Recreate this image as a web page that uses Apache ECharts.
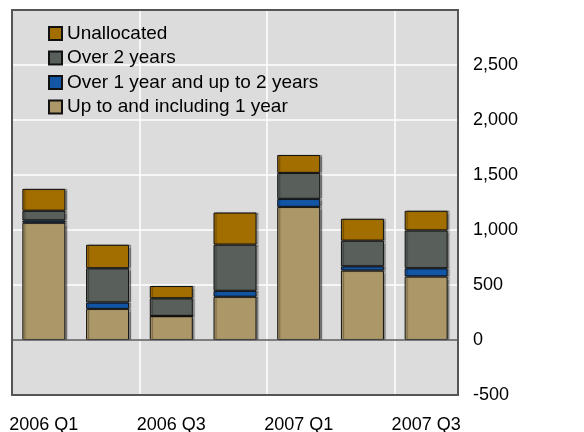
<!DOCTYPE html>
<html>
<head>
<meta charset="utf-8">
<script src="https://cdn.jsdelivr.net/npm/echarts@6/dist/echarts.min.js"></script>
<style>
  html, body { margin: 0; padding: 0; background: #fff; }
  #main { width: 584px; height: 432px; }
</style>
</head>
<body>
<div id="main"></div>
<script>
  // quarters
  var categories = ['2006 Q1', '2006 Q2', '2006 Q3', '2006 Q4', '2007 Q1', '2007 Q2', '2007 Q3'];
  // stacked from the bottom up
  var upTo1Year = [1066, 283, 217, 393, 1210, 631, 577];
  var oneTo2Years = [21, 58, 2, 54, 73, 39, 75];
  var over2Years = [88, 311, 160, 420, 236, 233, 344];
  var unallocated = [199, 214, 112, 292, 163, 199, 179];
  var yTicks = [-500, 0, 500, 1000, 1500, 2000, 2500, 3000];

  var font = 'Liberation Sans, Arial, sans-serif';
  var chart = echarts.init(document.getElementById('main'));

  function bar(name, data, color) {
    return {
      name: name,
      type: 'bar',
      stack: 'total',
      barWidth: 43,
      data: data,
      itemStyle: {
        color: color,
        borderColor: '#111',
        borderWidth: 1,
        shadowColor: 'rgba(0,0,0,0.35)',
        shadowOffsetX: 2,
        shadowBlur: 1
      }
    };
  }

  var series = [
    bar('Up to and including 1 year', upTo1Year, '#ab9767'),
    bar('Over 1 year and up to 2 years', oneTo2Years, '#1356a6'),
    bar('Over 2 years', over2Years, '#59605b'),
    bar('Unallocated', unallocated, '#a26e00')
  ];
  // zero line
  series[0].markLine = {
    silent: true,
    symbol: 'none',
    label: { show: false },
    lineStyle: { color: '#555', width: 1.5, type: 'solid' },
    data: [{ yAxis: 0 }]
  };

  chart.setOption({
    animation: false,
    textStyle: { fontFamily: font },
    grid: {
      left: 12, right: 126, top: 10, bottom: 37,
      outerBoundsMode: 'none',
      containLabel: false,
      show: true,
      backgroundColor: '#dcdcdc',
      borderWidth: 0
    },
    // plot frame drawn above the split lines
    graphic: [{
      type: 'rect',
      z: 100,
      silent: true,
      shape: { x: 12, y: 10, width: 446, height: 385 },
      style: { fill: 'none', stroke: '#555', lineWidth: 2 }
    }],
    legend: {
      data: ['Unallocated', 'Over 2 years', 'Over 1 year and up to 2 years', 'Up to and including 1 year'],
      orient: 'vertical',
      left: 48,
      top: 24,
      padding: 0,
      itemWidth: 13,
      itemHeight: 13,
      itemGap: 5.5,
      icon: 'rect',
      textStyle: { fontSize: 19, color: '#000', fontFamily: font }
    },
    xAxis: {
      type: 'category',
      data: categories,
      boundaryGap: true,
      axisLine: { show: false },
      axisTick: { show: false },
      axisLabel: { interval: 1, fontSize: 18, color: '#000', margin: 21 },
      splitLine: { show: true, interval: 1, lineStyle: { color: '#fff', width: 1.5 } }
    },
    yAxis: {
      type: 'value',
      position: 'right',
      min: yTicks[0],
      max: yTicks[yTicks.length - 1],
      interval: 500,
      axisLine: { show: false },
      axisTick: { show: false },
      axisLabel: {
        showMaxLabel: false,
        fontSize: 18,
        color: '#000',
        margin: 15,
        formatter: function (v) { return v.toLocaleString('en-US'); }
      },
      splitLine: { lineStyle: { color: '#fff', width: 1.5 } }
    },
    series: series
  });
</script>
</body>
</html>
